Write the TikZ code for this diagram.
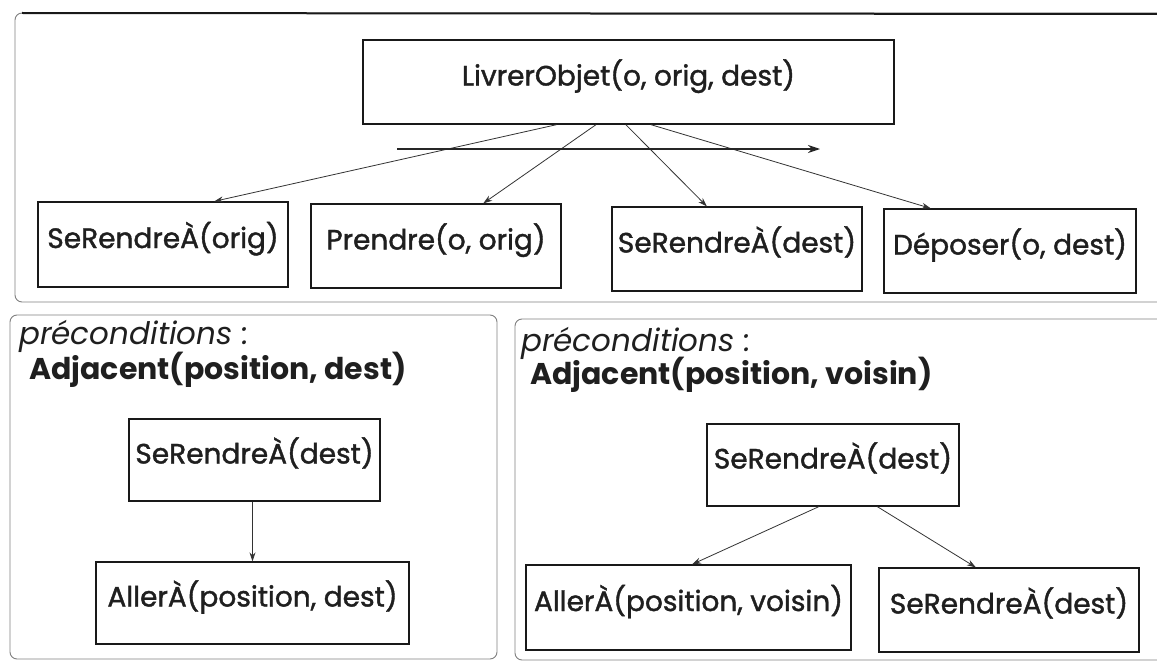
\documentclass[tikz,border=0pt]{standalone}
\usepackage{fontspec}
\setmainfont{Poppins}
\usetikzlibrary{calc,arrows.meta}

\newcommand\taskfont{\fontsize{28}{32}\selectfont\addfontfeature{FakeBold=1.4}}
\newcommand\condfont{\fontsize{30}{34}\selectfont\bfseries}
\newcommand\prefont{\fontsize{31}{36}\selectfont\itshape}

\begin{document}
\begin{tikzpicture}[x=1pt,y=-1pt,
  panel/.style={draw=black!50, line width=0.9pt, rounded corners=7pt},
  task/.style 2 args={draw=black!90, line width=1.3pt, inner sep=0pt,
    minimum width=#1, minimum height=#2,
    text height=20pt, text depth=13pt, font=\taskfont, text=black!88},
  link/.style={draw=black!80, line width=0.8pt,
    -{Stealth[length=9pt,width=6pt]}},
  label/.style={anchor=west, inner sep=0pt, text=black!88}
]
\useasboundingbox (0,0) rectangle (1157,661);
\fill[white] (0,0) rectangle (1157,661);
\clip (0,0) rectangle (1157,661);

% --- panels
\draw[panel] (15,13) rectangle (1175,302);
\draw[black!90, line width=2pt] (22,13) -- (1157,14);
\draw[panel] (10,315) rectangle (497,659);
\draw[panel] (515,319) rectangle (1175,660);

% --- top decomposition
\node[task={531}{84}] (top) at (628.5,82) {LivrerObjet(o, orig, dest)};
\node[task={250}{85}] (o1) at (163,244.5) {SeRendreÀ(orig)};
\node[task={250}{84}] (o2) at (436,246) {Prendre(o, orig)};
\node[task={250}{84}] (o3) at (737,249) {SeRendreÀ(dest)};
\node[task={252}{84}] (o4) at (1010,251) {Déposer(o, dest)};

\draw[link] ($(top.south west)!0.365!(top.south east)$) -- ($(o1.north west)!0.704!(o1.north east)$);
\draw[link] ($(top.south west)!0.439!(top.south east)$) -- ($(o2.north west)!0.688!(o2.north east)$);
\draw[link] ($(top.south west)!0.495!(top.south east)$) -- ($(o3.north west)!0.380!(o3.north east)$);
\draw[link] ($(top.south west)!0.542!(top.south east)$) -- ($(o4.north west)!0.187!(o4.north east)$);

% ordering arrow
\coordinate (ordA) at (397,149);
\coordinate (ordB) at (820,149);
\draw[draw=black!85, line width=1.4pt, -{Stealth[length=12pt,width=8pt]}] (ordA) -- (ordB);

% --- left method
\node[label, font=\prefont] (pre1) at (19,336) {préconditions :};
\node[label, font=\condfont] (cond1) at (29,370) {Adjacent(position, dest)};
\node[task={251}{82}] (sd1) at (254.5,460) {SeRendreÀ(dest)};
\node[task={313}{82}] (ad1) at (252.5,603) {AllerÀ(position, dest)};
\draw[link] (sd1.south -| ad1.north) -- (ad1.north);

% --- right method
\node[label, font=\prefont] (pre2) at (521,343) {préconditions :};
\node[label, font=\condfont] (cond2) at (530,375) {Adjacent(position, voisin)};
\node[task={252}{82}] (sd2) at (833,465) {SeRendreÀ(dest)};
\node[task={325}{85}] (ad2) at (688.5,607.5) {AllerÀ(position, voisin)};
\node[task={260}{84}] (sd3) at (1009,610) {SeRendreÀ(dest)};
\draw[link] ($(sd2.south west)!0.444!(sd2.south east)$) -- ($(ad2.north west)!0.511!(ad2.north east)$);
\draw[link] ($(sd2.south west)!0.675!(sd2.south east)$) -- ($(sd3.north west)!0.373!(sd3.north east)$);
\end{tikzpicture}
\end{document}
